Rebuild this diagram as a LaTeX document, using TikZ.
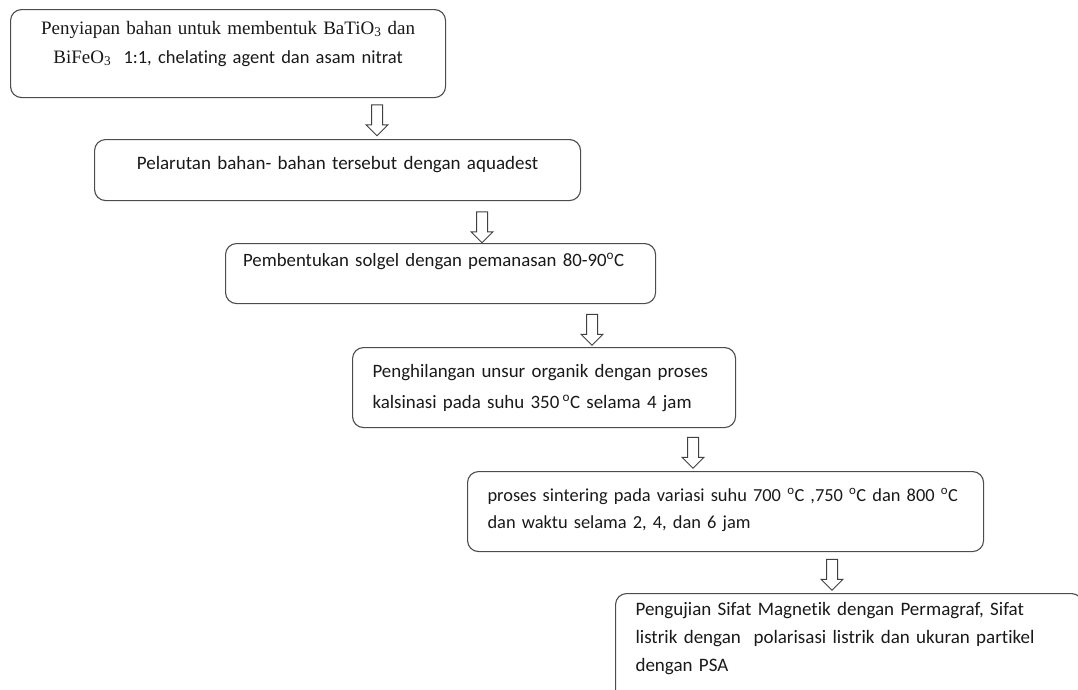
\documentclass[tikz,border=0pt]{standalone}
\usepackage{fontspec}
\setmainfont{Carlito}[Ligatures=NoCommon]
\newfontfamily\timesfont{Liberation Serif}
\usetikzlibrary{shapes.arrows, positioning}

\begin{document}
\begin{tikzpicture}[
    x=1pt, y=-1pt,
    box/.style={draw=black!70, line width=1.1pt, rounded corners=11pt, anchor=north west,
      inner ysep=0pt, text=black!90},
    cbox/.style={box, align=center, inner xsep=10pt},
    lbox/.style={box, align=left, inner xsep=20pt},
    darr/.style={draw=black!75, line width=1pt, single arrow, single arrow head extend=5.5pt,
      single arrow head indent=0pt, minimum width=21pt, minimum height=31pt, inner sep=0pt,
      text height=5pt, text depth=5pt, rotate=-90}
]
\clip (0,0) rectangle (1078,689);

\node[cbox, font=\fontsize{18.5}{29}\selectfont, text width=415pt, text height=24.5pt, text depth=63.5pt] (siap) at (10,9)
  {{\timesfont\fontsize{19}{29}\selectfont Penyiapan bahan untuk membentuk BaTiO\textsubscript{3} dan}\\{\timesfont\fontsize{19}{29}\selectfont BiFeO\textsubscript{3}}\ \ 1:1, chelating agent dan asam nitrat};
\node[cbox, font=\fontsize{19}{29}\selectfont, text width=466pt, text height=30pt, text depth=31pt] (larut) at (94,139)
  {Pelarutan bahan- bahan tersebut dengan aquadest};
\node[lbox, inner xsep=17.5pt, font=\fontsize{18.8}{29}\selectfont, text width=395pt, text height=22.5pt, text depth=37.5pt] (solgel) at (225,243)
  {Pembentukan solgel dengan pemanasan 80-90\textsuperscript{o}C};
\node[lbox, font=\fontsize{18.9}{31}\selectfont, text width=343pt, text height=29.5pt, text depth=50.5pt] (kalsin) at (352,347)
  {Penghilangan unsur organik dengan proses\\kalsinasi pada suhu 350\,\textsuperscript{o}C selama 4 jam};
\node[lbox, font=\fontsize{18.4}{27}\selectfont, text width=476pt, text height=29.5pt, text depth=50.5pt] (sinter) at (467,471)
  {proses sintering pada variasi suhu 700 \textsuperscript{o}C ,750 \textsuperscript{o}C dan 800 \textsuperscript{o}C\\dan waktu selama 2, 4, dan 6 jam};
\node[lbox, font=\fontsize{19}{28}\selectfont, text width=427pt, text height=21.5pt, text depth=93.5pt] (uji) at (615,593)
  {Pengujian Sifat Magnetik dengan Permagraf, Sifat\\listrik dengan\ \ polarisasi listrik dan ukuran partikel\\dengan PSA};

% panah antar tahap
\node[darr] (p1) at (377,117.5) {};
\node[darr] (p2) at (482,224.5) {};
\node[darr] (p3) at (592,327) {};
\node[darr] (p4) at (693,450) {};
\node[darr] (p5) at (832,572) {};
\end{tikzpicture}
\end{document}
